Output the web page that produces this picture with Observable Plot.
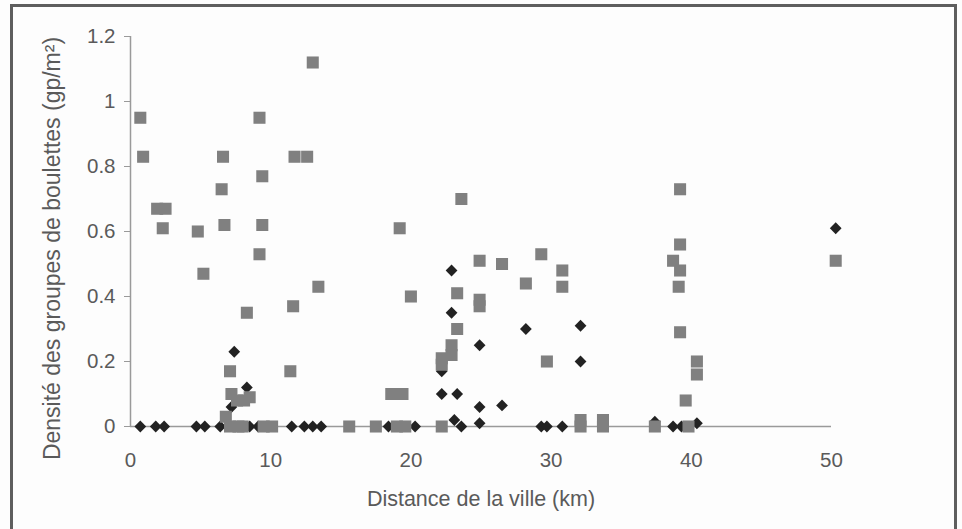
<!DOCTYPE html>
<html>
<head>
<meta charset="utf-8">
<script src="https://cdn.jsdelivr.net/npm/d3@7"></script>
<script src="https://cdn.jsdelivr.net/npm/@observablehq/plot@0.6"></script>
<style>
  html, body { margin: 0; padding: 0; background: #fdfdfd; }
  #wrap { position: relative; width: 962px; height: 529px; overflow: hidden; background: #fdfdfd; }
  #frame { position: absolute; left: 10px; top: 4px; width: 941px; height: 540px; border: 3px solid #5e5e5e; box-sizing: content-box; pointer-events: none; }
  #chart { position: absolute; left: 0; top: 0; }
  svg text { font-family: "Liberation Sans", Arial, sans-serif; }
</style>
</head>
<body>
<div id="wrap"><div id="chart"></div><div id="frame"></div></div>
<script>
// Série 1 (losanges noirs)
const diamondDist = [0.7, 1.8, 2.4, 4.7, 5.3, 6.4, 8.5, 9.1, 11.5, 12.4, 13.0, 13.6, 18.4, 20.3, 29.3, 29.7, 30.8, 38.7, 39.3,
  7.4, 8.3, 7.2, 22.9, 22.9, 24.9, 28.2, 32.1, 22.2, 32.1, 22.2, 23.3, 24.9, 26.5, 24.9, 23.1, 23.6, 37.4, 40.4, 50.3];
const diamondDens = [0, 0, 0, 0, 0, 0, 0, 0, 0, 0, 0, 0, 0, 0, 0, 0, 0, 0, 0,
  0.23, 0.12, 0.06, 0.48, 0.35, 0.25, 0.30, 0.31, 0.17, 0.20, 0.10, 0.10, 0.06, 0.065, 0.01, 0.02, 0.0, 0.015, 0.01, 0.61];

// Série 2 (carrés gris)
const squareDist = [0.7, 0.9, 1.9, 2.5, 2.3, 4.8, 5.2, 6.6, 6.5, 6.7, 9.2, 9.4, 9.4, 9.2, 11.7, 12.6, 13.0, 13.4, 11.6, 8.3,
  7.1, 11.4, 7.2, 7.6, 8.1, 8.5, 6.8, 7.1, 7.7, 8.0, 9.5, 10.1, 15.6, 17.5, 19.0, 19.6, 22.2,
  23.6, 19.2, 20.0, 24.9, 26.5, 29.3, 30.8, 28.2, 30.8, 24.9, 24.9, 23.3, 23.3, 22.9, 22.9, 22.2, 22.2, 29.7, 18.6, 19.4,
  32.1, 32.1, 33.7, 33.7, 37.4, 39.8, 39.2, 39.2, 38.7, 39.2, 39.1, 39.2, 40.4, 40.4, 39.6, 50.3];
const squareDens = [0.95, 0.83, 0.67, 0.67, 0.61, 0.60, 0.47, 0.83, 0.73, 0.62, 0.95, 0.77, 0.62, 0.53, 0.83, 0.83, 1.12, 0.43, 0.37, 0.35,
  0.17, 0.17, 0.10, 0.08, 0.08, 0.09, 0.03, 0, 0, 0, 0, 0, 0, 0, 0, 0, 0,
  0.70, 0.61, 0.40, 0.51, 0.50, 0.53, 0.48, 0.44, 0.43, 0.39, 0.37, 0.41, 0.30, 0.25, 0.22, 0.21, 0.19, 0.20, 0.10, 0.10,
  0, 0.02, 0, 0.02, 0, 0, 0.73, 0.56, 0.51, 0.48, 0.43, 0.29, 0.20, 0.16, 0.08, 0.51];

const xTicks = [0, 10, 20, 30, 40, 50];
const yTicks = [0, 0.2, 0.4, 0.6, 0.8, 1, 1.2];
const xTitle = "Distance de la ville (km)";
const yTitle = "Densité des groupes de boulettes (gp/m²)";

const diamonds = diamondDist.map((d, i) => ({dist: d, dens: diamondDens[i]}));
const squares = squareDist.map((d, i) => ({dist: d, dens: squareDens[i]}));

const chart = Plot.plot({
  width: 962,
  height: 529,
  marginLeft: 130,
  marginRight: 131,
  marginTop: 36,
  marginBottom: 103,
  style: {background: "transparent", color: "#5a5a5a", fontSize: "20px", fontFamily: "Liberation Sans, Arial, sans-serif"},
  x: {domain: [0, 50]},
  y: {domain: [0, 1.2]},
  marks: [
    Plot.ruleY([0], {stroke: "#9a9a9a", strokeWidth: 1.5}),
    Plot.ruleX([0], {y1: 0, y2: 1.2, stroke: "#9a9a9a", strokeWidth: 1.5}),
    Plot.axisX({ticks: xTicks, tickSize: 0, tickPadding: 26, fontSize: 20.5, fill: "#5a5a5a",
      label: null}),
    Plot.axisX({ticks: [], tickSize: 0, fontSize: 21.5, fill: "#5a5a5a",
      label: xTitle, labelAnchor: "center", labelArrow: "none", labelOffset: 79}),
    Plot.axisY({ticks: yTicks, tickSize: 6, tickPadding: 9, stroke: "#9a9a9a", fontSize: 20.5, fill: "#5a5a5a",
      tickFormat: d => String(+d.toFixed(1)), label: null}),
    Plot.text([yTitle], {frameAnchor: "left", rotate: -90, textAnchor: "middle", lineAnchor: "middle",
      dx: -78, dy: 17, fontSize: 23, fill: "#5a5a5a"}),
    Plot.dot(diamonds, {x: "dist", y: "dens", symbol: "diamond2", r: 5.3, fill: "#222", stroke: "none"}),
    Plot.dot(squares, {x: "dist", y: "dens", symbol: "square", r: 6.8, fill: "#808080", stroke: "none"})
  ]
});
document.getElementById("chart").appendChild(chart);
</script>
</body>
</html>
